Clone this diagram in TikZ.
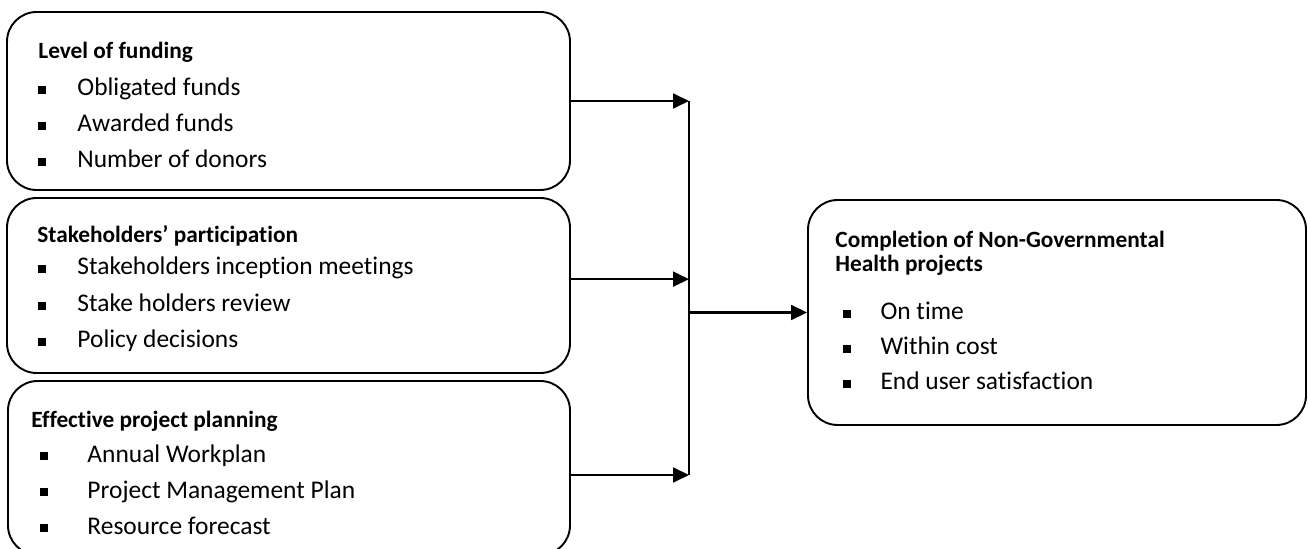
\documentclass[tikz,border=0pt]{standalone}
\usepackage{fontspec}
\setmainfont{Carlito}[Ligatures={NoCommon}]
\usetikzlibrary{arrows.meta, calc}

\newcommand{\sqbullet}{\raisebox{0.9pt}{\rule{3.6pt}{3.6pt}}}

\begin{document}
\begin{tikzpicture}[
    x=0.4717pt, y=-0.4717pt,
    box/.style={draw=black, line width=0.9pt, rounded corners=14pt, inner sep=0pt},
    head/.style={anchor=base west, inner sep=0pt, font=\fontsize{11}{13}\selectfont\bfseries},
    itm/.style={anchor=base west, inner sep=0pt, font=\fontsize{12}{14}\selectfont},
    wire/.style={line width=1pt, draw=black},
    arr/.style={line width=1pt, draw=black, -{Triangle[length=7.5pt, width=7pt]}}
]
\useasboundingbox (0,0) rectangle (1308,549);

% Left column: independent variables
\node[box, minimum width=563*0.4717pt, minimum height=178*0.4717pt] (funding) at (288.5, 101) {};
\node[box, minimum width=563*0.4717pt, minimum height=175*0.4717pt] (stake) at (288.5, 285.5) {};
\node[box, minimum width=562*0.4717pt, minimum height=174*0.4717pt] (planning) at (289, 468) {};

\node[head] (funding-hd) at (38, 59) {Level of funding};
\foreach \t [count=\i] in {Obligated funds, Awarded funds, Number of donors} {
    \node[itm] (funding-\i) at (38, {96 + 36*(\i-1)}) {\makebox[18.4pt][l]{\sqbullet}\t};
}

\node[head] (stake-hd) at (37, 243) {Stakeholders’ participation};
\foreach \t [count=\i] in {Stakeholders inception meetings, Stake holders review, Policy decisions} {
    \node[itm] (stake-\i) at (38, {275 + 36.5*(\i-1)}) {\makebox[18.4pt][l]{\sqbullet}\t};
}

\node[head] (planning-hd) at (31, 427) {Effective project planning};
\foreach \t [count=\i] in {Annual Workplan, Project Management Plan, Resource forecast} {
    \node[itm] (planning-\i) at (40, {462 + 36*(\i-1)}) {\makebox[22.2pt][l]{\sqbullet}\t};
}

% Right: dependent variable
\node[box, minimum width=498*0.4717pt, minimum height=225*0.4717pt] (goal) at (1057, 312.5) {};
\node[head] (goal-hd1) at (835, 248) {Completion of Non-Governmental};
\node[head] (goal-hd2) at (835, 272) {Health projects};
\foreach \t [count=\i] in {On time, Within cost, End user satisfaction} {
    \node[itm] (goal-\i) at (843, {320 + 35*(\i-1)}) {\makebox[17.5pt][l]{\sqbullet}\t};
}

% Connectors
\coordinate (bus-top) at (689, 101);
\coordinate (bus-bot) at (689, 475);
\draw[wire] (bus-top) -- (bus-bot);
\draw[arr] (funding.east) -- (funding.east -| bus-top);
\draw[arr] ([yshift=3pt]stake.east) -- ([yshift=3pt]stake.east -| bus-top);
\draw[arr] ([yshift=-3.3pt]planning.east) -- ([yshift=-3.3pt]planning.east -| bus-top);
\draw[arr] (goal.west -| bus-top) -- (goal.west);

\end{tikzpicture}
\end{document}
